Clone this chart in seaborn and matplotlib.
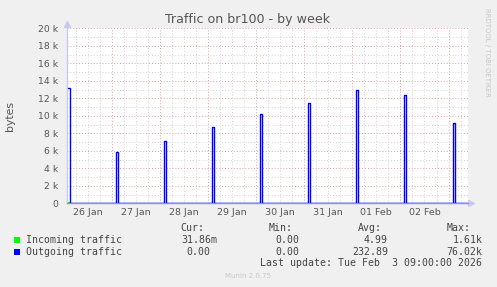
import numpy as np
import pandas as pd
import matplotlib
matplotlib.use("Agg")
import matplotlib.pyplot as plt
import matplotlib.transforms as mtransforms
from matplotlib.patches import Rectangle
from matplotlib.ticker import FixedLocator, FixedFormatter, MultipleLocator, NullFormatter
import seaborn as sns

# ---------------- data ----------------
series_names = ["Incoming traffic", "Outgoing traffic"]
series_colors = ["#00FF00", "#0000FF"]
# start of each one-hour burst, hours after 26 Jan 00:00
spike_start_hours = [2.0, 26.0, 50.0, 74.0, 98.0, 122.0, 146.0, 170.0, 194.0]
outgoing_peaks = [13150, 5900, 7100, 8700, 10200, 11500, 12950, 12400, 9200]
incoming_peaks = [150, 0, 0, 0, 0, 0, 0, 0, 0]
day_labels = ["26 Jan", "27 Jan", "28 Jan", "29 Jan", "30 Jan", "31 Jan", "01 Feb", "02 Feb"]
y_tick_values = [0, 2000, 4000, 6000, 8000, 10000, 12000, 14000, 16000, 18000, 20000]
y_tick_labels = ["0", "2 k", "4 k", "6 k", "8 k", "10 k", "12 k", "14 k", "16 k", "18 k", "20 k"]
stat_headers = ["Cur:", "Min:", "Avg:", "Max:"]
incoming_stats = ["31.86m", "0.00", "4.99", "1.61k"]
outgoing_stats = ["0.00", "0.00", "232.89", "76.02k"]
last_update = "Last update: Tue Feb  3 09:00:00 2026"
title = "Traffic on br100 - by week"

# hourly samples, zero except the bursts
hours = np.arange(2.0, 202.0, 1.0)
rows = []
for name, peaks in zip(series_names, [incoming_peaks, outgoing_peaks]):
    lookup = dict(zip(spike_start_hours, peaks))
    for h in hours:
        rows.append({"hour": h, "bytes": lookup.get(h, 0.0), "series": name})
df = pd.DataFrame(rows)

# ---------------- figure ----------------
W, H = 497, 287
sns.set_theme(style="white")
plt.rcParams["font.family"] = ["DejaVu Sans"]
fig = plt.figure(figsize=(W / 100, H / 100), dpi=100, facecolor="#F0F0F0")

def fx(x):
    return x / W

def fy(y):
    return 1 - y / H

ax_left, ax_right, ax_top, ax_bottom = 67, 468, 28.3, 203.3
ax = fig.add_axes([fx(ax_left), fy(ax_bottom), (ax_right - ax_left) / W, (ax_bottom - ax_top) / H])
ax.set_facecolor("white")

sns.lineplot(data=df, x="hour", y="bytes", hue="series", hue_order=series_names,
             palette=series_colors, drawstyle="steps-post", linewidth=1.0,
             estimator=None, errorbar=None, legend=False, ax=ax)
ax.lines[0].set_linewidth(0.8)
for ln in ax.lines:
    ln.set_zorder(3)

ax.set_xlim(1.7, 201.7)
ax.set_ylim(0, 20000)

red = "#E8A0A0"
gray = "#D4D4D4"
# x grid: day boundaries (major) and 6-hour (minor)
ax.xaxis.set_major_locator(FixedLocator(np.arange(24, 202, 24)))
ax.xaxis.set_minor_locator(MultipleLocator(6))
ax.xaxis.set_major_formatter(NullFormatter())
ax.yaxis.set_major_locator(FixedLocator(y_tick_values))
ax.yaxis.set_major_formatter(FixedFormatter(y_tick_labels))
ax.yaxis.set_minor_locator(MultipleLocator(1000))

ax.grid(which="minor", color=gray, linestyle=(0, (1, 2)), linewidth=0.7)
ax.grid(which="major", color=red, linestyle=(0, (1, 2)), linewidth=0.7)
ax.set_axisbelow(True)

ax.tick_params(axis="both", which="major", length=2, width=0.7, color=red,
               labelsize=6.7, labelcolor="#555555")
ax.tick_params(axis="both", which="minor", length=2, width=0.7, color=gray)
ax.tick_params(axis="y", which="major", pad=4.2)
ax.set_xlabel("")
ax.set_ylabel("bytes", fontsize=7.8, color="#555555")
ax.yaxis.set_label_coords((15 - ax_left) / (ax_right - ax_left), 0.5)

for side in ["top", "right"]:
    ax.spines[side].set_visible(False)
ax.spines["left"].set_color("#C8C8F0")
ax.spines["left"].set_linewidth(1.0)
ax.spines["bottom"].set_color("#8C8CF0")
ax.spines["bottom"].set_linewidth(1.0)

# day labels centered on each day
sec = ax.secondary_xaxis("bottom")
sec.set_xticks(np.arange(12, 202, 24))
sec.set_xticklabels(day_labels)
sec.tick_params(length=0, pad=3.2, labelsize=6.8, labelcolor="#555555")
sec.spines["bottom"].set_visible(False)

# axis arrows
arrow_col = "#C8C8F0"
up = mtransforms.offset_copy(ax.transAxes, fig=fig, x=0, y=4, units="dots")
ax.plot([0], [1], marker="^", markersize=4.5, color=arrow_col, transform=up, clip_on=False)
rt = mtransforms.offset_copy(ax.transAxes, fig=fig, x=3, y=0, units="dots")
ax.plot([1], [0], marker=">", markersize=4.5, color=arrow_col, transform=rt, clip_on=False)

# title
fig.text(fx(248), fy(19), title, ha="center", va="center", fontsize=9.1, color="#555555")
# side credit
fig.text(fx(487), fy(52), "RRDTOOL / TOBI OETIKER", rotation=270, ha="center", va="center",
         fontsize=5.0, color="#C8C8C8")

# legend block
mono = "DejaVu Sans Mono"
lfs = 7.1
lcol = "#444444"
hdr_x = [180.5, 268.8, 357.8, 446.2]
fig_y_hdr, fig_y_r1, fig_y_r2 = 227.7, 240.0, 251.7
for hx, htxt in zip(hdr_x, stat_headers):
    fig.text(fx(hx), fy(fig_y_hdr), htxt, ha="left", va="center", fontsize=lfs, family=mono, color=lcol)
col_right = [216.9, 299.2, 387.9, 482.5]
for row_y, name, col, stats in [(fig_y_r1, series_names[0], series_colors[0], incoming_stats),
                                (fig_y_r2, series_names[1], series_colors[1], outgoing_stats)]:
    fig.patches.append(Rectangle((fx(14), fy(row_y + 2.8)), 6 / W, 6 / H, transform=fig.transFigure,
                                 facecolor=col, edgecolor="none"))
    fig.text(fx(26.2), fy(row_y), name, ha="left", va="center", fontsize=lfs, family=mono, color=lcol)
    for i, s in enumerate(stats):
        xr = col_right[i]
        if i == 0 and row_y == fig_y_r2:
            xr = 210.2
        fig.text(fx(xr), fy(row_y), s, ha="right", va="center", fontsize=lfs, family=mono, color=lcol)
fig.text(fx(482.5), fy(263.3), last_update, ha="right", va="center", fontsize=lfs, family=mono, color=lcol)
fig.text(fx(248), fy(276), "Munin 2.0.75", ha="center", va="center", fontsize=5.0, color="#C8C8C8")

fig.savefig("out.png", dpi=100, facecolor=fig.get_facecolor())
